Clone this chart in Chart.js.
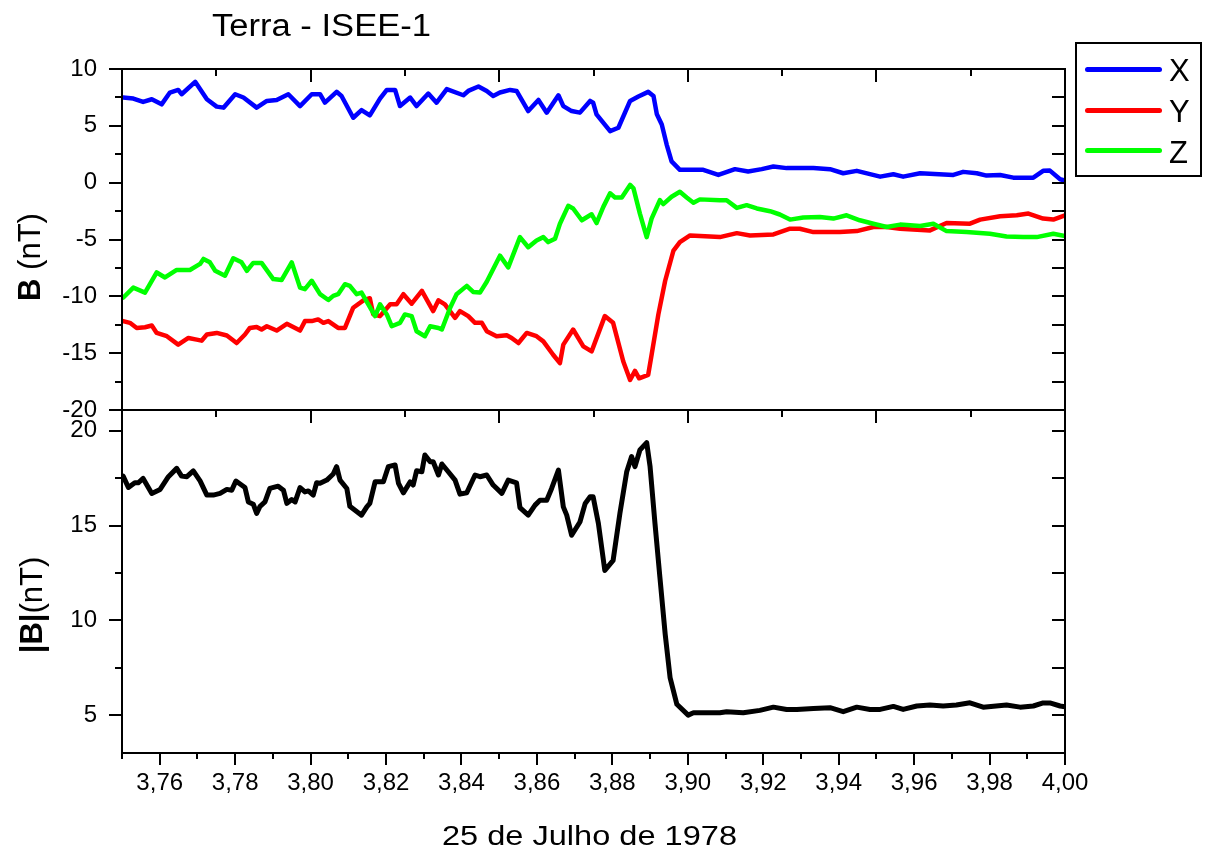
<!DOCTYPE html>
<html>
<head>
<meta charset="utf-8">
<script src="https://cdn.jsdelivr.net/npm/chart.js@4.4.0/dist/chart.umd.min.js"></script>
<style>
html,body{margin:0;padding:0;background:#fff;}
#wrap{position:relative;width:1206px;height:854px;overflow:hidden;font-family:"Liberation Sans",Arial,sans-serif;color:#000;background:#fff;}
canvas{position:absolute;left:0;top:0;}
.txt{position:absolute;white-space:nowrap;line-height:1;transform-origin:0 0;}
.rot{position:absolute;white-space:nowrap;line-height:1;font-size:31px;transform:translate(-50%,-50%) rotate(-90deg);}
.lg{position:absolute;height:5px;width:77px;border-radius:3px;left:1085px;}
.lt{position:absolute;font-size:31px;line-height:1;left:1169px;}
</style>
</head>
<body>
<div id="wrap">
  <canvas id="cTop" width="1206" height="854"></canvas>
  <canvas id="cBot" width="1206" height="854"></canvas>
  <div class="txt" id="title" style="left:212px;top:10px;font-size:31px;" data-w="219">Terra - ISEE-1</div>
  <div class="txt" id="xlab" style="left:442px;top:822px;font-size:28px;" data-w="295">25 de Julho de 1978</div>
  <div class="rot" style="left:29px;top:257px;"><b>B</b> (nT)</div>
  <div class="rot" style="left:31px;top:605px;"><b>|B|</b>(nT)</div>
  <div style="position:absolute;left:1075px;top:42px;width:123px;height:131px;border:2px solid #000;"></div>
  <div class="lg" style="top:67px;background:#0000FF;"></div>
  <div class="lg" style="top:108px;background:#FF0000;"></div>
  <div class="lg" style="top:148px;background:#00FF00;"></div>
  <div class="lt" style="top:55px;">X</div>
  <div class="lt" style="top:96px;">Y</div>
  <div class="lt" style="top:137px;">Z</div>
</div>
<script>
// ---- data: [time (day fraction), value] ----
const seriesBx = [
[3.7503,7.49],[3.7530,7.40],[3.7556,7.10],[3.7579,7.34],[3.7605,6.89],[3.7627,7.93],[3.7649,8.16],[3.7658,7.78],[3.7694,8.87],[3.7725,7.34],[3.7751,6.69],[3.7769,6.60],[3.7800,7.78],[3.7822,7.49],[3.7857,6.60],[3.7884,7.19],[3.7910,7.28],[3.7941,7.78],[3.7972,6.74],[3.8003,7.78],[3.8025,7.78],[3.8038,7.04],[3.8069,7.99],[3.8082,7.63],[3.8113,5.71],[3.8135,6.39],[3.8157,5.92],[3.8184,7.40],[3.8202,8.16],[3.8224,8.16],[3.8237,6.74],[3.8264,7.49],[3.8281,6.74],[3.8312,7.84],[3.8334,7.04],[3.8361,8.23],[3.8405,7.69],[3.8418,8.07],[3.8445,8.46],[3.8467,8.07],[3.8484,7.63],[3.8502,7.93],[3.8529,8.16],[3.8546,8.07],[3.8577,6.30],[3.8604,7.28],[3.8626,6.16],[3.8657,7.69],[3.8670,6.74],[3.8692,6.30],[3.8714,6.16],[3.8741,7.19],[3.8749,7.04],[3.8758,6.01],[3.8794,4.53],[3.8816,4.83],[3.8847,7.19],[3.8869,7.58],[3.8895,7.99],[3.8909,7.63],[3.8918,6.01],[3.8931,5.12],[3.8944,3.35],[3.8957,1.87],[3.8979,1.13],[3.9041,1.13],[3.9081,0.68],[3.9125,1.19],[3.9160,0.98],[3.9196,1.19],[3.9227,1.42],[3.9262,1.28],[3.9333,1.28],[3.9377,1.19],[3.9412,0.83],[3.9448,1.04],[3.9510,0.53],[3.9545,0.74],[3.9571,0.53],[3.9616,0.83],[3.9704,0.68],[3.9730,0.95],[3.9766,0.83],[3.9792,0.62],[3.9828,0.68],[3.9863,0.44],[3.9916,0.44],[3.9942,1.04],[3.9960,1.06],[3.9987,0.30],[4.0000,0.18]
];
const seriesBy = [
[3.7503,-12.18],[3.7521,-12.33],[3.7539,-12.78],[3.7561,-12.72],[3.7579,-12.57],[3.7592,-13.22],[3.7619,-13.51],[3.7649,-14.25],[3.7676,-13.66],[3.7698,-13.81],[3.7711,-13.90],[3.7725,-13.36],[3.7751,-13.22],[3.7778,-13.45],[3.7804,-14.11],[3.7826,-13.36],[3.7839,-12.78],[3.7857,-12.69],[3.7870,-12.92],[3.7884,-12.63],[3.7910,-13.01],[3.7937,-12.42],[3.7972,-13.01],[3.7985,-12.18],[3.8003,-12.18],[3.8020,-12.03],[3.8034,-12.33],[3.8047,-12.18],[3.8073,-12.78],[3.8091,-12.78],[3.8113,-11.00],[3.8140,-10.35],[3.8157,-10.17],[3.8166,-11.59],[3.8184,-11.74],[3.8211,-10.70],[3.8228,-10.70],[3.8246,-9.81],[3.8268,-10.65],[3.8295,-9.52],[3.8325,-11.30],[3.8339,-10.35],[3.8356,-10.70],[3.8383,-11.89],[3.8396,-11.30],[3.8418,-11.74],[3.8436,-12.33],[3.8454,-12.33],[3.8467,-13.07],[3.8493,-13.51],[3.8520,-13.43],[3.8533,-13.66],[3.8551,-14.11],[3.8573,-13.22],[3.8599,-13.51],[3.8617,-13.96],[3.8643,-15.14],[3.8661,-15.88],[3.8670,-14.25],[3.8696,-12.92],[3.8723,-14.40],[3.8745,-14.84],[3.8780,-11.74],[3.8802,-12.33],[3.8829,-15.73],[3.8847,-17.36],[3.8860,-16.56],[3.8871,-17.21],[3.8895,-16.91],[3.8904,-15.14],[3.8922,-11.59],[3.8940,-8.63],[3.8962,-5.97],[3.8979,-5.23],[3.9006,-4.64],[3.9085,-4.79],[3.9130,-4.44],[3.9165,-4.64],[3.9227,-4.55],[3.9271,-4.05],[3.9297,-4.05],[3.9333,-4.35],[3.9403,-4.35],[3.9448,-4.26],[3.9492,-3.90],[3.9527,-3.90],[3.9563,-4.05],[3.9642,-4.20],[3.9686,-3.55],[3.9748,-3.61],[3.9775,-3.25],[3.9828,-2.95],[3.9872,-2.87],[3.9903,-2.72],[3.9942,-3.16],[3.9969,-3.25],[4.0000,-2.87]
];
const seriesBz = [
[3.7503,-10.12],[3.7530,-9.23],[3.7561,-9.67],[3.7592,-7.90],[3.7614,-8.34],[3.7645,-7.68],[3.7680,-7.68],[3.7707,-7.15],[3.7716,-6.71],[3.7733,-7.01],[3.7747,-7.75],[3.7773,-8.19],[3.7795,-6.65],[3.7817,-7.01],[3.7831,-7.75],[3.7848,-7.06],[3.7870,-7.06],[3.7901,-8.48],[3.7923,-8.57],[3.7950,-7.01],[3.7972,-9.23],[3.7985,-9.37],[3.8003,-8.63],[3.8025,-9.81],[3.8047,-10.32],[3.8060,-9.96],[3.8073,-9.81],[3.8091,-8.93],[3.8104,-9.08],[3.8122,-9.81],[3.8135,-9.67],[3.8153,-10.70],[3.8171,-11.74],[3.8184,-10.70],[3.8202,-11.59],[3.8215,-12.63],[3.8237,-12.33],[3.8250,-11.59],[3.8268,-11.74],[3.8281,-13.07],[3.8303,-13.51],[3.8317,-12.63],[3.8339,-12.78],[3.8348,-12.92],[3.8370,-11.00],[3.8387,-9.81],[3.8414,-9.08],[3.8431,-9.61],[3.8449,-9.67],[3.8467,-8.72],[3.8502,-6.42],[3.8524,-7.45],[3.8555,-4.79],[3.8577,-5.68],[3.8599,-5.08],[3.8617,-4.79],[3.8630,-5.23],[3.8648,-4.93],[3.8661,-3.61],[3.8683,-2.04],[3.8696,-2.27],[3.8719,-3.31],[3.8745,-2.78],[3.8758,-3.55],[3.8776,-2.13],[3.8794,-0.94],[3.8807,-1.30],[3.8825,-1.30],[3.8847,-0.20],[3.8856,-0.50],[3.8873,-2.72],[3.8891,-4.79],[3.8904,-3.16],[3.8926,-1.54],[3.8935,-1.89],[3.8957,-1.24],[3.8979,-0.80],[3.8997,-1.30],[3.9015,-1.77],[3.9032,-1.47],[3.9085,-1.54],[3.9103,-1.54],[3.9130,-2.22],[3.9156,-1.98],[3.9183,-2.27],[3.9218,-2.51],[3.9244,-2.80],[3.9271,-3.25],[3.9306,-3.07],[3.9350,-3.02],[3.9386,-3.16],[3.9421,-2.87],[3.9456,-3.31],[3.9492,-3.61],[3.9527,-3.90],[3.9563,-3.69],[3.9616,-3.82],[3.9651,-3.61],[3.9686,-4.26],[3.9739,-4.35],[3.9801,-4.49],[3.9845,-4.73],[3.9889,-4.79],[3.9925,-4.79],[3.9969,-4.49],[4.0000,-4.70]
];
const seriesBmag = [
[3.7503,17.61],[3.7517,17.01],[3.7534,17.26],[3.7543,17.26],[3.7556,17.49],[3.7579,16.70],[3.7601,16.91],[3.7623,17.58],[3.7645,18.02],[3.7658,17.61],[3.7672,17.58],[3.7689,17.89],[3.7707,17.36],[3.7725,16.61],[3.7742,16.61],[3.7760,16.70],[3.7778,16.91],[3.7791,16.87],[3.7802,17.35],[3.7826,17.01],[3.7835,16.25],[3.7848,16.13],[3.7857,15.64],[3.7866,16.02],[3.7879,16.25],[3.7892,16.96],[3.7914,17.08],[3.7928,16.87],[3.7937,16.17],[3.7950,16.38],[3.7959,16.25],[3.7972,17.01],[3.7985,16.78],[3.7994,16.83],[3.8007,16.61],[3.8016,17.26],[3.8025,17.23],[3.8043,17.40],[3.8060,17.72],[3.8069,18.11],[3.8078,17.40],[3.8096,16.96],[3.8104,16.02],[3.8135,15.55],[3.8149,15.99],[3.8157,16.17],[3.8171,17.31],[3.8193,17.31],[3.8206,18.11],[3.8224,18.20],[3.8233,17.23],[3.8246,16.73],[3.8264,17.31],[3.8272,17.14],[3.8281,17.89],[3.8295,17.84],[3.8303,18.73],[3.8317,18.37],[3.8325,18.37],[3.8339,17.67],[3.8348,18.25],[3.8365,17.84],[3.8383,17.40],[3.8396,16.66],[3.8414,16.73],[3.8436,17.67],[3.8449,17.58],[3.8467,17.67],[3.8484,17.14],[3.8507,16.70],[3.8524,17.40],[3.8546,17.26],[3.8555,15.95],[3.8577,15.55],[3.8595,16.08],[3.8608,16.34],[3.8626,16.34],[3.8639,16.96],[3.8657,17.93],[3.8670,15.99],[3.8679,15.55],[3.8692,14.49],[3.8714,15.19],[3.8728,16.17],[3.8741,16.52],[3.8749,16.52],[3.8763,15.11],[3.8780,12.63],[3.8802,13.16],[3.8820,15.64],[3.8838,17.84],[3.8851,18.64],[3.8860,18.11],[3.8873,18.99],[3.8891,19.38],[3.8900,18.11],[3.8913,15.11],[3.8926,12.28],[3.8940,9.28],[3.8953,6.98],[3.8971,5.57],[3.9001,5.00],[3.9015,5.12],[3.9085,5.12],[3.9103,5.18],[3.9147,5.12],[3.9191,5.25],[3.9227,5.42],[3.9262,5.30],[3.9289,5.30],[3.9333,5.35],[3.9377,5.39],[3.9412,5.18],[3.9448,5.42],[3.9483,5.30],[3.9510,5.30],[3.9545,5.46],[3.9571,5.30],[3.9607,5.48],[3.9642,5.53],[3.9677,5.48],[3.9712,5.53],[3.9748,5.65],[3.9783,5.42],[3.9845,5.53],[3.9881,5.42],[3.9916,5.48],[3.9942,5.64],[3.9960,5.64],[3.9987,5.48],[4.0000,5.44]
];

// ---- axis ticks ----
const xTickValues = [3.76,3.78,3.80,3.82,3.84,3.86,3.88,3.90,3.92,3.94,3.96,3.98,4.00];
const xMinorTicks = [3.75,3.77,3.79,3.81,3.83,3.85,3.87,3.89,3.91,3.93,3.95,3.97,3.99];
const xEdgeMajor = [3.80,3.85,3.90,3.95];
const xEdgeMinor = [3.775,3.825,3.875,3.925,3.975];
const topYTicks = [-20,-15,-10,-5,0,5,10];
const topYMinor = [-17.5,-12.5,-7.5,-2.5,2.5,7.5];
const topYRight = [-17.5,-15,-12.5,-10,-7.5,-5,-2.5,0,2.5,5,7.5];
const botYTicks = [5,10,15,20];
const botYMinor = [7.5,12.5,17.5];
const botYRight = [5,7.5,10,12.5,15,17.5,20];

const FONT = '"Liberation Sans", Arial, sans-serif';
const toXY = arr => arr.map(p => ({x: p[0], y: p[1]}));
const fmtX = v => v.toFixed(2).replace('.', ',');

const framePlugin = {
  id: 'frame',
  afterDraw(chart, args, o) {
    const {ctx, chartArea: a, scales} = chart;
    const sx = scales.x, sy = scales.y;
    ctx.save();
    ctx.strokeStyle = '#000';
    ctx.lineWidth = 2;
    const seg = (x1, y1, x2, y2) => { ctx.beginPath(); ctx.moveTo(x1, y1); ctx.lineTo(x2, y2); ctx.stroke(); };
    const px = v => Math.round(sx.getPixelForValue(v));
    const py = v => Math.round(sy.getPixelForValue(v));
    (o.leftMajor || []).forEach(v => seg(a.left - 13, py(v), a.left, py(v)));
    (o.leftMinor || []).forEach(v => seg(a.left - 7, py(v), a.left, py(v)));
    (o.rightIn || []).forEach(v => seg(a.right - 13, py(v), a.right, py(v)));
    (o.topMajor || []).forEach(v => seg(px(v), a.top, px(v), a.top + 13));
    (o.topMinor || []).forEach(v => seg(px(v), a.top, px(v), a.top + 7));
    (o.bottomMajor || []).forEach(v => seg(px(v), a.bottom, px(v), a.bottom + 12));
    (o.bottomMinor || []).forEach(v => seg(px(v), a.bottom, px(v), a.bottom + 6));
    ctx.strokeRect(a.left, a.top, a.right - a.left, a.bottom - a.top);
    ctx.restore();
  }
};

const common = {
  responsive: false,
  animation: false,
  events: [],
  elements: {
    point: {radius: 0},
    line: {borderWidth: 4.5, tension: 0, borderCapStyle: 'round', borderJoinStyle: 'round'}
  }
};

new Chart(document.getElementById('cTop'), {
  type: 'line',
  data: {datasets: [
    {label: 'Z', data: toXY(seriesBz), borderColor: '#00FF00', order: 0},
    {label: 'Y', data: toXY(seriesBy), borderColor: '#FF0000', order: 1},
    {label: 'X', data: toXY(seriesBx), borderColor: '#0000FF', order: 2}
  ]},
  options: Object.assign({}, common, {
    layout: {padding: {left: 0, top: 69, right: 141, bottom: 854 - 410}},
    plugins: {
      legend: {display: false}, tooltip: {enabled: false},
      frame: {leftMajor: topYTicks, leftMinor: topYMinor, rightIn: topYRight, topMajor: xEdgeMajor, topMinor: xEdgeMinor}
    },
    scales: {
      x: {type: 'linear', min: 3.75, max: 4.0, display: false},
      y: {
        type: 'linear', min: -20, max: 10,
        afterFit: s => { s.width = 122; },
        afterBuildTicks: s => { s.ticks = topYTicks.map(v => ({value: v})); },
        grid: {display: false, drawTicks: false},
        border: {display: false},
        ticks: {padding: 25, color: '#000', font: {family: FONT, size: 24}, autoSkip: false}
      }
    }
  }),
  plugins: [framePlugin]
});

new Chart(document.getElementById('cBot'), {
  type: 'line',
  data: {datasets: [
    {label: '|B|', data: toXY(seriesBmag), borderColor: '#000000', borderWidth: 5}
  ]},
  options: Object.assign({}, common, {
    layout: {padding: {left: 0, top: 410, right: 141, bottom: 0}},
    plugins: {
      legend: {display: false}, tooltip: {enabled: false},
      frame: {leftMajor: botYTicks, leftMinor: botYMinor, rightIn: botYRight, topMajor: xEdgeMajor, topMinor: xEdgeMinor, bottomMajor: xTickValues, bottomMinor: xMinorTicks}
    },
    scales: {
      x: {
        type: 'linear', min: 3.75, max: 4.0,
        afterFit: s => { s.height = 854 - 753; },
        afterBuildTicks: s => { s.ticks = xTickValues.map(v => ({value: v})); },
        grid: {display: false, drawTicks: false},
        border: {display: false},
        ticks: {padding: 16, color: '#000', font: {family: FONT, size: 24}, maxRotation: 0, autoSkip: false, callback: v => fmtX(v)}
      },
      y: {
        type: 'linear', min: 3, max: 21.1,
        afterFit: s => { s.width = 122; },
        afterBuildTicks: s => { s.ticks = botYTicks.map(v => ({value: v})); },
        grid: {display: false, drawTicks: false},
        border: {display: false},
        ticks: {padding: 25, color: '#000', font: {family: FONT, size: 24}, autoSkip: false}
      }
    }
  }),
  plugins: [framePlugin]
});

document.querySelectorAll('[data-w]').forEach(el => {
  const k = +el.dataset.w / el.getBoundingClientRect().width;
  el.style.transform = 'scaleX(' + k + ')';
});
</script>
</body>
</html>
